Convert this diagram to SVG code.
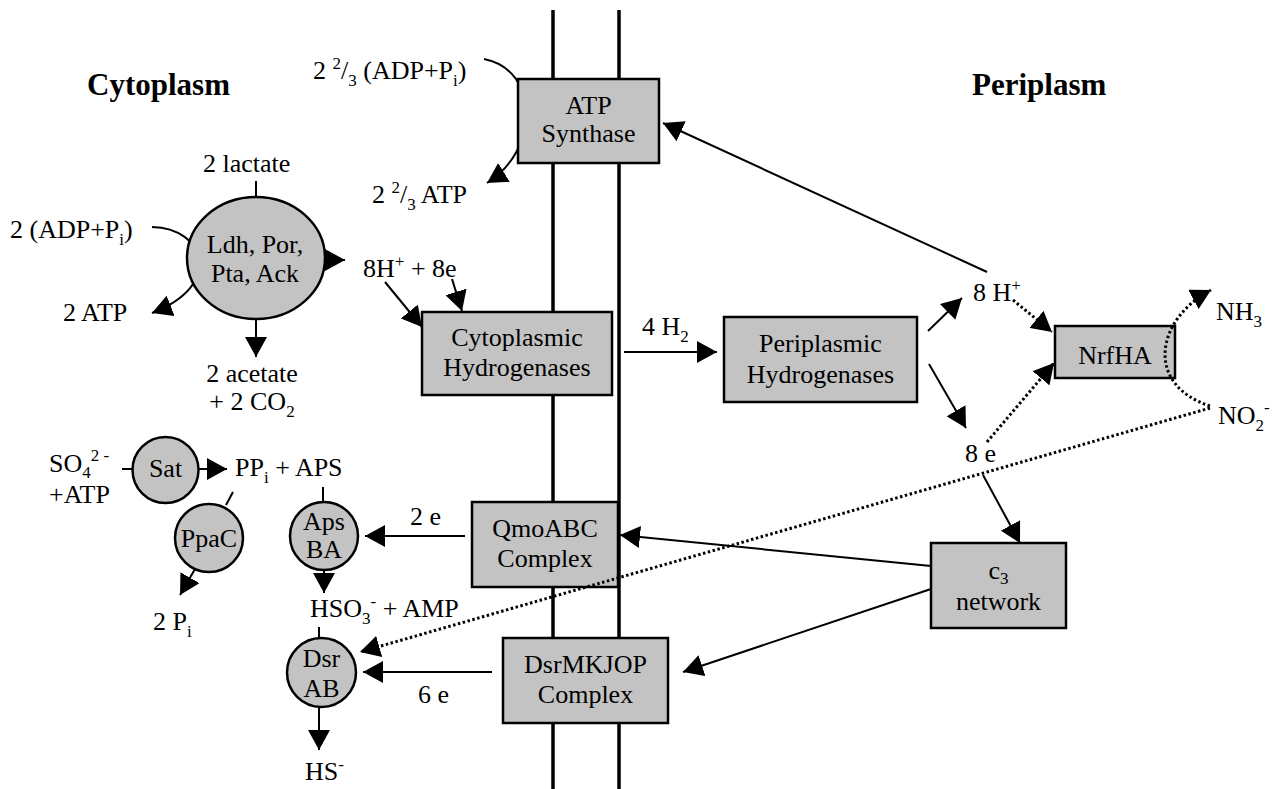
<svg xmlns="http://www.w3.org/2000/svg" width="1284" height="789" viewBox="0 0 1284 789">
<style>
.t{font-family:"Liberation Serif","Times New Roman",serif;font-size:26px;fill:#000}
.m{text-anchor:middle}
.h{font-weight:bold;font-size:31px}
.s{font-size:17px}
.box{fill:#c3c3c3;stroke:#000;stroke-width:2.5}
.c{stroke:#000;stroke-width:2;fill:none}
.d{stroke:#000;stroke-width:3;stroke-dasharray:2.5 2.5;fill:none}
.mem{stroke:#000;stroke-width:3.5}
</style>
<defs>
<marker id="ah" viewBox="0 0 20 22" refX="20" refY="11" markerWidth="20" markerHeight="22" markerUnits="userSpaceOnUse" orient="auto">
<path d="M0,0 L20,11 L0,22 z" fill="#000"/>
</marker>
</defs>
<rect width="1284" height="789" fill="#fff"/>
<g id="membrane">
<line class="mem" x1="553" y1="10" x2="553" y2="789"/>
<line class="mem" x1="619" y1="10" x2="619" y2="789"/>
</g>
<g id="labels">
<text class="t h" x="87" y="95">Cytoplasm</text>
<text class="t h" x="972" y="95">Periplasm</text>
<text class="t" x="313" y="79">2 <tspan class="s" dy="-10">2</tspan><tspan dy="10">/</tspan><tspan class="s" dy="7">3</tspan><tspan dy="-7"> (ADP+P</tspan><tspan class="s" dy="7">i</tspan><tspan dy="-7">)</tspan></text>
<text class="t" x="372" y="203">2 <tspan class="s" dy="-10">2</tspan><tspan dy="10">/</tspan><tspan class="s" dy="7">3</tspan><tspan dy="-7"> ATP</tspan></text>
<text class="t" x="203" y="172">2 lactate</text>
<text class="t" x="10" y="238">2 (ADP+P<tspan class="s" dy="7">i</tspan><tspan dy="-7">)</tspan></text>
<text class="t" x="63" y="321">2 ATP</text>
<text class="t m" x="252" y="382">2 acetate</text>
<text class="t m" x="252" y="410">+ 2 CO<tspan class="s" dy="7">2</tspan></text>
<text class="t" x="363" y="277">8H<tspan class="s" dy="-10">+</tspan><tspan dy="10"> + 8e</tspan></text>
<text class="t" x="642" y="335">4 H<tspan class="s" dy="7">2</tspan></text>
<text class="t" x="973" y="301">8 H<tspan class="s" dy="-10">+</tspan></text>
<text class="t" x="965" y="462">8 e</text>
<text class="t" x="1216" y="320">NH<tspan class="s" dy="7">3</tspan></text>
<text class="t" x="1218" y="424">NO<tspan class="s" dy="7">2</tspan><tspan class="s" dy="-18">-</tspan></text>
<text class="t" x="49" y="472">SO<tspan class="s" dy="6">4</tspan><tspan class="s" dy="-17">2 -</tspan></text>
<text class="t" x="49" y="503">+ATP</text>
<text class="t" x="235" y="476">PP<tspan class="s" dy="7">i</tspan><tspan dy="-7"> + APS</tspan></text>
<text class="t" x="153" y="630">2 P<tspan class="s" dy="7">i</tspan></text>
<text class="t" x="410" y="525">2 e</text>
<text class="t" x="418" y="703">6 e</text>
<text class="t" x="310" y="617">HSO<tspan class="s" dy="7">3</tspan><tspan class="s" dy="-17">-</tspan><tspan dy="10"> + AMP</tspan></text>
<text class="t" x="305" y="780">HS<tspan class="s" dy="-10">-</tspan></text>
</g>
<g id="connectors">
<path class="c" d="M484,59 C540,70 540,150 487,183" marker-end="url(#ah)"/>
<path class="c" d="M152,227 C205,228 225,285 152,313" marker-end="url(#ah)"/>
<line class="c" x1="256" y1="181" x2="256" y2="197"/>
<line class="c" x1="322" y1="260" x2="345" y2="260" marker-end="url(#ah)"/>
<line class="c" x1="256" y1="319" x2="256" y2="357" marker-end="url(#ah)"/>
<line class="c" x1="385" y1="282" x2="422" y2="327" marker-end="url(#ah)"/>
<line class="c" x1="452" y1="279" x2="462" y2="311" marker-end="url(#ah)"/>
<line class="c" x1="624" y1="352" x2="717" y2="352" marker-end="url(#ah)"/>
<line class="c" x1="928" y1="331" x2="962" y2="298" marker-end="url(#ah)"/>
<line class="c" x1="929" y1="364" x2="966" y2="428" marker-end="url(#ah)"/>
<line class="c" x1="987" y1="272" x2="663" y2="123" marker-end="url(#ah)"/>
<line class="c" x1="983" y1="475" x2="1020" y2="543" marker-end="url(#ah)"/>
<line class="c" x1="931" y1="566" x2="620" y2="535" marker-end="url(#ah)"/>
<line class="c" x1="931" y1="589" x2="683" y2="672" marker-end="url(#ah)"/>
<line class="c" x1="465" y1="536" x2="365" y2="536" marker-end="url(#ah)"/>
<line class="c" x1="492" y1="672" x2="363" y2="672" marker-end="url(#ah)"/>
<line class="c" x1="323" y1="487" x2="323" y2="502"/>
<line class="c" x1="324" y1="570" x2="324" y2="593" marker-end="url(#ah)"/>
<line class="c" x1="319" y1="627" x2="319" y2="638"/>
<line class="c" x1="319" y1="707" x2="319" y2="750" marker-end="url(#ah)"/>
<line class="c" x1="122" y1="469" x2="132" y2="469"/>
<line class="c" x1="199" y1="469" x2="227" y2="469" marker-end="url(#ah)"/>
<line class="c" x1="233" y1="492" x2="226" y2="505"/>
<line class="c" x1="195" y1="569" x2="180" y2="595" marker-end="url(#ah)"/>
</g>
<g id="atp-synthase">
<rect class="box" x="518" y="79" width="141" height="84"/>
<text class="t m" x="588.5" y="114">ATP</text>
<text class="t m" x="588.5" y="142">Synthase</text>
</g>
<g id="ldh">
<ellipse class="box" cx="256" cy="258" rx="69" ry="61" stroke-width="2"/>
<text class="t m" x="255" y="253">Ldh, Por,</text>
<text class="t m" x="255" y="282">Pta, Ack</text>
</g>
<g id="cyto-hyd">
<rect class="box" x="422" y="312" width="190" height="83"/>
<text class="t m" x="517" y="346">Cytoplasmic</text>
<text class="t m" x="517" y="376">Hydrogenases</text>
</g>
<g id="peri-hyd">
<rect class="box" x="724" y="317" width="193" height="85"/>
<text class="t m" x="820.5" y="352">Periplasmic</text>
<text class="t m" x="820.5" y="383">Hydrogenases</text>
</g>
<g id="nrfha">
<rect class="box" x="1055" y="326" width="120" height="52"/>
<text class="t m" x="1115" y="364">NrfHA</text>
</g>
<g id="c3">
<rect class="box" x="931" y="543" width="135" height="85"/>
<text class="t m" x="998.5" y="579">c<tspan class="s" dy="5">3</tspan></text>
<text class="t m" x="998.5" y="610">network</text>
</g>
<g id="qmo">
<rect class="box" x="472" y="502" width="146" height="85"/>
<text class="t m" x="545" y="537">QmoABC</text>
<text class="t m" x="545" y="567">Complex</text>
</g>
<g id="dsrmkjop">
<rect class="box" x="503" y="638" width="165" height="85"/>
<text class="t m" x="585.5" y="673">DsrMKJOP</text>
<text class="t m" x="585.5" y="703">Complex</text>
</g>
<g id="sat">
<circle class="box" cx="165.5" cy="470" r="33" stroke-width="2"/>
<text class="t m" x="165.5" y="477">Sat</text>
</g>
<g id="ppac">
<circle class="box" cx="209" cy="538" r="34" stroke-width="2"/>
<text class="t m" x="209" y="547">PpaC</text>
</g>
<g id="apsba">
<circle class="box" cx="324" cy="536" r="34" stroke-width="2"/>
<text class="t m" x="324" y="530">Aps</text>
<text class="t m" x="324" y="558">BA</text>
</g>
<g id="dsrab">
<circle class="box" cx="321.5" cy="672.5" r="34.5" stroke-width="2"/>
<text class="t m" x="321.5" y="667">Dsr</text>
<text class="t m" x="321.5" y="697">AB</text>
</g>
<g id="dotted-connectors">
<line class="d" x1="1013" y1="300" x2="1052" y2="332" marker-end="url(#ah)"/>
<line class="d" x1="987" y1="442" x2="1054" y2="363" marker-end="url(#ah)"/>
<line class="d" x1="1210" y1="408" x2="360" y2="652" marker-end="url(#ah)"/>
<path class="d" d="M1210,406 C1145,385 1155,320 1211,290" marker-end="url(#ah)"/>
</g>
</svg>
